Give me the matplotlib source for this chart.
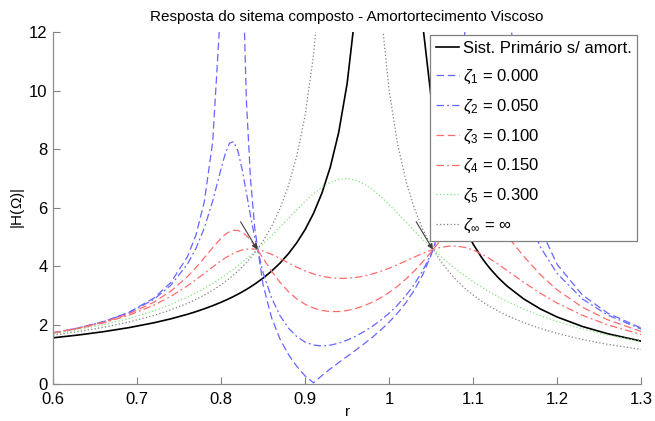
import numpy as np
import matplotlib
matplotlib.use("Agg")
import matplotlib.pyplot as plt

plt.rcParams['font.family'] = ['Liberation Sans', 'DejaVu Sans']
plt.rcParams['mathtext.fontset'] = 'custom'
plt.rcParams['mathtext.rm'] = 'Liberation Sans'
plt.rcParams['mathtext.it'] = 'Liberation Sans:italic'

# razao de frequencias r
r = [0.60, 0.63, 0.66, 0.69, 0.72, 0.74, 0.76, 0.77, 0.78, 0.79,
     0.80, 0.805, 0.81, 0.815, 0.82, 0.825, 0.83, 0.835, 0.84, 0.85,
     0.86, 0.87, 0.88, 0.89, 0.90, 0.91, 0.92, 0.93, 0.94, 0.95,
     0.96, 0.97, 0.98, 0.99, 1.00, 1.01, 1.02, 1.03, 1.04, 1.05,
     1.06, 1.07, 1.08, 1.09, 1.10, 1.11, 1.115, 1.12, 1.13, 1.14,
     1.16, 1.18, 1.20, 1.23, 1.26, 1.30]

# sistema primario sem amortecedor
h_prim = [1.563, 1.658, 1.772, 1.909, 2.076, 2.210, 2.367, 2.456, 2.554, 2.660,
          2.778, 2.841, 2.908, 2.978, 3.053, 3.131, 3.214, 3.303, 3.397, 3.604,
          3.840, 4.114, 4.433, 4.810, 5.263, 5.817, 6.510, 7.402, 8.591, 10.256,
          12.755, 16.920, 25.253, 50.251, 1000.0, 49.751, 24.752, 16.420, 12.255, 9.756,
          8.091, 6.901, 6.010, 5.316, 4.762, 4.309, 4.111, 3.931, 3.611, 3.338,
          2.894, 2.548, 2.273, 1.950, 1.702, 1.449]

h_z1 = [1.736, 1.899, 2.117, 2.430, 2.920, 3.447, 4.337, 5.069, 6.211, 8.265,
        13.104, 19.303, 39.09, 381.7, 30.18, 15.066, 9.725, 6.986, 5.315, 3.368,
        2.255, 1.524, 0.996, 0.589, 0.258, 0.024, 0.273, 0.502, 0.717, 0.927,
        1.138, 1.354, 1.582, 1.828, 2.100, 2.408, 2.766, 3.194, 3.721, 4.394,
        5.294, 6.569, 8.535, 11.990, 19.716, 52.85, 303.1, 82.28, 23.459, 13.774,
        7.611, 5.289, 4.065, 3.023, 2.408, 1.893]

h_z2 = [1.734, 1.896, 2.111, 2.414, 2.877, 3.352, 4.084, 4.615, 5.316, 6.238,
        7.345, 7.862, 8.216, 8.268, 7.950, 7.322, 6.536, 5.731, 4.988, 3.787,
        2.930, 2.325, 1.898, 1.605, 1.417, 1.315, 1.285, 1.310, 1.380, 1.484,
        1.616, 1.774, 1.956, 2.165, 2.406, 2.685, 3.011, 3.397, 3.862, 4.430,
        5.134, 6.014, 7.104, 8.386, 9.666, 10.467, 10.522, 10.321, 9.366, 8.136,
        6.041, 4.661, 3.756, 2.890, 2.340, 1.859]

h_z3 = [1.730, 1.888, 2.094, 2.376, 2.780, 3.156, 3.655, 3.959, 4.297, 4.646,
        4.968, 5.097, 5.190, 5.238, 5.232, 5.171, 5.058, 4.900, 4.709, 4.277,
        3.845, 3.461, 3.143, 2.893, 2.707, 2.578, 2.497, 2.460, 2.461, 2.495,
        2.561, 2.656, 2.780, 2.932, 3.114, 3.327, 3.572, 3.850, 4.161, 4.499,
        4.855, 5.206, 5.520, 5.754, 5.866, 5.835, 5.766, 5.667, 5.394, 5.061,
        4.353, 3.719, 3.198, 2.607, 2.180, 1.776]

h_z4 = [1.725, 1.877, 2.072, 2.330, 2.677, 2.977, 3.341, 3.547, 3.764, 3.984,
        4.195, 4.292, 4.379, 4.455, 4.517, 4.564, 4.592, 4.603, 4.595, 4.532,
        4.418, 4.275, 4.122, 3.977, 3.849, 3.745, 3.667, 3.617, 3.594, 3.596,
        3.623, 3.673, 3.744, 3.835, 3.942, 4.062, 4.192, 4.323, 4.449, 4.560,
        4.645, 4.693, 4.697, 4.653, 4.561, 4.426, 4.347, 4.260, 4.071, 3.870,
        3.463, 3.084, 2.749, 2.333, 2.006, 1.674]

h_z5 = [1.704, 1.842, 2.010, 2.220, 2.485, 2.700, 2.953, 3.097, 3.253, 3.422,
        3.606, 3.704, 3.806, 3.912, 4.022, 4.136, 4.254, 4.377, 4.504, 4.769,
        5.050, 5.341, 5.640, 5.937, 6.223, 6.485, 6.708, 6.877, 6.979, 7.004,
        6.950, 6.822, 6.631, 6.390, 6.116, 5.822, 5.520, 5.219, 4.927, 4.647,
        4.381, 4.132, 3.899, 3.682, 3.481, 3.294, 3.206, 3.121, 2.960, 2.812,
        2.546, 2.316, 2.117, 1.866, 1.659, 1.436]

h_zinf = [1.656, 1.775, 1.920, 2.100, 2.327, 2.515, 2.742, 2.875, 3.023, 3.190,
          3.378, 3.482, 3.593, 3.713, 3.841, 3.979, 4.129, 4.291, 4.468, 4.872,
          5.364, 5.973, 6.750, 7.771, 9.174, 11.225, 14.501, 20.572, 35.663, 137.93,
          72.674, 28.580, 17.718, 12.802, 10.000, 8.189, 6.923, 5.988, 5.270, 4.700,
          4.238, 3.855, 3.533, 3.258, 3.021, 2.814, 2.721, 2.633, 2.472, 2.328,
          2.083, 1.881, 1.712, 1.506, 1.340, 1.164]

labels = ['Sist. Primário s/ amort.',
          r'$\zeta_1$ = 0.000', r'$\zeta_2$ = 0.050', r'$\zeta_3$ = 0.100',
          r'$\zeta_4$ = 0.150', r'$\zeta_5$ = 0.300', r'$\zeta_\infty$ = $\infty$']

# pontos fixos (onde todas as curvas se cruzam)
fixed_r = [0.843, 1.052]
fixed_h = [4.58, 4.58]

blue = (0.4, 0.4, 1.0)
red = (1.0, 0.42, 0.42)
green = (0.5, 0.9, 0.5)
grey = (0.5, 0.5, 0.5)

fig = plt.figure(figsize=(6.55, 4.21), dpi=100)
ax = fig.add_axes([0.081, 0.089, 0.898, 0.834])

ax.plot(r, h_prim, color='black', lw=1.2, label=labels[0])
ax.plot(r, h_z1, color=blue, lw=0.9, ls=(0, (6, 3)), label=labels[1])
ax.plot(r, h_z2, color=blue, lw=0.9, ls=(0, (6, 2.5, 1.5, 2.5)), label=labels[2])
ax.plot(r, h_z3, color=red, lw=0.9, ls=(0, (6, 3)), label=labels[3])
ax.plot(r, h_z4, color=red, lw=0.9, ls=(0, (6, 2.5, 1.5, 2.5)), label=labels[4])
ax.plot(r, h_z5, color=green, lw=0.9, ls=(0, (1, 1.8)), label=labels[5])
ax.plot(r, h_zinf, color=grey, lw=0.9, ls=(0, (1, 1.8)), label=labels[6])

for xf, yf in zip(fixed_r, fixed_h):
    ax.annotate('', xy=(xf, yf), xytext=(-12, 20), textcoords='offset points',
                arrowprops=dict(arrowstyle='-|>', color='0.25', lw=0.8,
                                mutation_scale=8, shrinkA=0, shrinkB=0))

ax.set_xlim(0.6, 1.3)
ax.set_ylim(0, 12)
ax.set_xticks([0.6, 0.7, 0.8, 0.9, 1.0, 1.1, 1.2, 1.3])
ax.set_xticklabels(['0.6', '0.7', '0.8', '0.9', '1', '1.1', '1.2', '1.3'])
ax.set_yticks([0, 2, 4, 6, 8, 10, 12])
ax.tick_params(direction='in', length=5, width=0.8, colors='0.5',
               labelcolor='black', labelsize=12)
ax.tick_params(axis='x', pad=6)
ax.tick_params(axis='y', pad=4)
for side in ['top', 'right']:
    ax.spines[side].set_visible(False)
for side in ['left', 'bottom']:
    ax.spines[side].set_color('0.55')
    ax.spines[side].set_linewidth(0.9)

ax.set_title('Resposta do sitema composto - Amortortecimento Viscoso', fontsize=11, pad=8)
ax.set_xlabel('r', fontsize=11, labelpad=-1)
ax.set_ylabel(r'|H($\Omega$)|', fontsize=11, labelpad=1)

leg = ax.legend(loc='upper right', bbox_to_anchor=(0.993, 0.993), borderaxespad=0,
                fontsize=12, handlelength=1.4, handletextpad=0.2, labelspacing=0.7,
                borderpad=0.35, fancybox=False, framealpha=1, edgecolor='0.5')
leg.get_frame().set_linewidth(0.9)

fig.savefig('out.png', dpi=100)
